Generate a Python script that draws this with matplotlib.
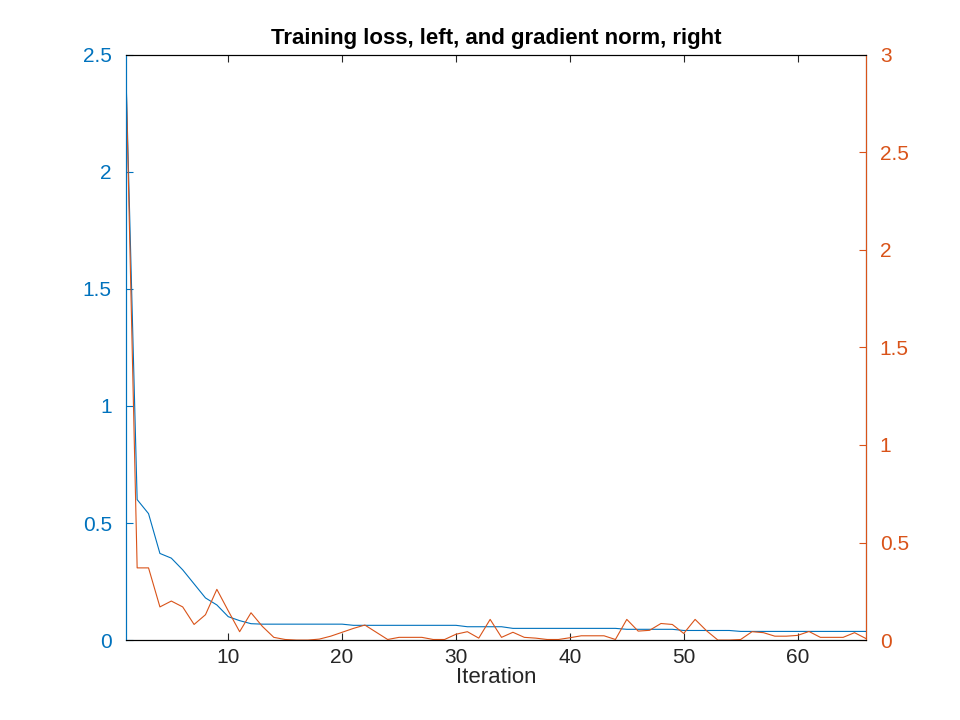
import matplotlib
matplotlib.use("Agg")
import matplotlib.pyplot as plt
import numpy as np

plt.rcParams['font.family'] = ['Liberation Sans', 'DejaVu Sans']

iters = list(range(1, 67))
loss = [2.45, 0.6, 0.54, 0.37, 0.35, 0.30, 0.24, 0.18, 0.15, 0.10, 0.083, 0.07,
        0.068, 0.068, 0.068, 0.068, 0.068, 0.068, 0.068, 0.068,
        0.063, 0.063, 0.063, 0.063, 0.063, 0.063, 0.063, 0.063, 0.063, 0.063,
        0.057, 0.057, 0.057, 0.057,
        0.05, 0.05, 0.05, 0.05, 0.05, 0.05, 0.05, 0.05, 0.05, 0.05,
        0.046, 0.046, 0.046, 0.046, 0.046,
        0.041, 0.041, 0.041, 0.041, 0.041,
        0.037, 0.037, 0.037, 0.037, 0.037, 0.037, 0.037, 0.037, 0.037, 0.037, 0.037, 0.037]
gnorm = [2.95, 0.37, 0.37, 0.17, 0.2, 0.17, 0.08, 0.13, 0.26, 0.15, 0.043, 0.14,
         0.07, 0.014, 0.003, 0.0, 0.0, 0.005, 0.02, 0.04, 0.06, 0.077, 0.04, 0.003,
         0.014, 0.014, 0.014, 0.003, 0.003, 0.03, 0.043, 0.01, 0.106, 0.014, 0.04,
         0.014, 0.01, 0.003, 0.003, 0.012, 0.022, 0.022, 0.022, 0.003, 0.106, 0.046,
         0.05, 0.085, 0.08, 0.034, 0.106, 0.048, 0.0, 0.0, 0.003, 0.043, 0.038, 0.02,
         0.02, 0.024, 0.044, 0.014, 0.014, 0.014, 0.038, 0.008]

blue = '#0072BD'
red = '#D95319'

fig = plt.figure(figsize=(9.6, 7.2), dpi=100)
ax = fig.add_axes([0.131, 0.111, 0.771, 0.813])
ax.plot(iters, loss, color=blue, lw=0.8)
ax.set_xlim(1, 66)
ax.set_ylim(0, 2.5)
ax.set_xticks([10, 20, 30, 40, 50, 60])
ax.set_yticks([0, 0.5, 1, 1.5, 2, 2.5])
ax.set_yticklabels(['0', '0.5', '1', '1.5', '2', '2.5'])
ax.tick_params(axis='x', direction='in', top=True, labelsize=15, colors='#262626', length=5, pad=6)
ax.tick_params(axis='y', direction='in', labelsize=15, colors=blue, length=5, pad=10)
ax.spines['left'].set_color(blue)
ax.set_xlabel('Iteration', fontsize=16, color='#262626', labelpad=0)
ax.set_title('Training loss, left, and gradient norm, right', fontsize=16, fontweight='bold', pad=8)

ax2 = ax.twinx()
ax2.plot(iters, gnorm, color=red, lw=0.8)
ax2.set_ylim(0, 3)
ax2.set_yticks([0, 0.5, 1, 1.5, 2, 2.5, 3])
ax2.set_yticklabels(['0', '0.5', '1', '1.5', '2', '2.5', '3'])
ax2.tick_params(axis='y', direction='in', labelsize=15, colors=red, length=5, pad=10)
ax2.spines['right'].set_color(red)
ax2.spines['left'].set_color(blue)

fig.savefig('out.png', dpi=100)
